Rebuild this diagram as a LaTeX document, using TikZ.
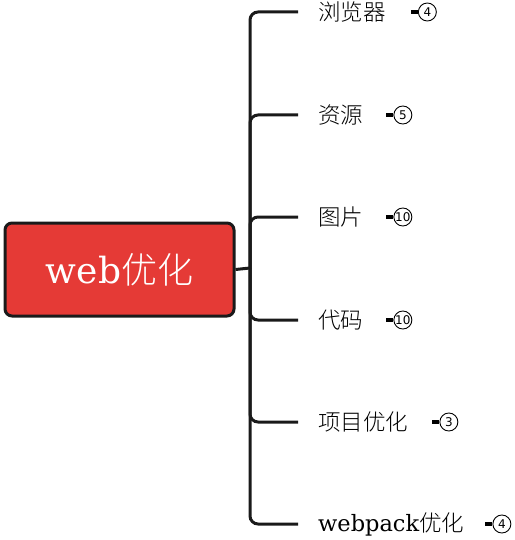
\documentclass[tikz,border=0pt]{standalone}
\usepackage{fontspec}
\setmainfont{DejaVu Serif}
\newfontfamily\cjk{Noto Sans CJK SC}[UprightFont={* Light}]
\setsansfont{DejaVu Sans}
\usetikzlibrary{positioning}
\definecolor{rootred}{HTML}{E53A36}
\definecolor{inkline}{HTML}{1A1A1A}
\tikzset{
  rootbox/.style={draw=inkline,line width=3pt,fill=rootred,rounded corners=7pt,
    minimum width=229pt,minimum height=93pt,text=white,
    font=\fontsize{36}{40}\selectfont},
  leaf/.style={inner sep=0pt,anchor=west,font=\fontsize{22.5}{24}\selectfont},
  branch/.style={draw=inkline,line width=3pt,rounded corners=8pt},
  counter/.style={draw=black,circle,line width=0.9pt,minimum size=18pt,inner sep=0pt,
    font=\sffamily\fontsize{12}{12}\selectfont},
  stub/.style={draw=black,line width=3.5pt}
}
\begin{document}
\begin{tikzpicture}[x=1pt,y=-1pt]
\useasboundingbox (0,0) rectangle (514,540);

\node[rootbox] (root) at (119.5,269.5) {web{\cjk 优化}};
\coordinate (hub) at (250,268);
\draw[branch] (root.east) -- (hub);

\node[leaf] (b1) at (318,12) {\cjk 浏览器};
\node[leaf] (b2) at (318,115) {\cjk 资源};
\node[leaf] (b3) at (318,217) {\cjk 图片};
\node[leaf] (b4) at (318,320) {\cjk 代码};
\node[leaf] (b5) at (318,422) {\cjk 项目优化};
\node[leaf] (b6) at (318,524) {webpack{\cjk 优化}};

% branches
\foreach \b in {b1,b2,b3,b4,b5,b6}
  \draw[branch] (hub) |- ([xshift=-20pt]\b.west);

% counters
\node[counter,right=32pt of b1] (n1) {4};
\node[counter,right=30pt of b2] (n2) {5};
\node[counter,right=30pt of b3] (n3) {10};
\node[counter,right=30pt of b4] (n4) {10};
\node[counter,right=31pt of b5] (n5) {3};
\node[counter,right=28pt of b6] (n6) {4};
\foreach \n in {n1,n2,n3,n4,n5,n6}
  \draw[stub] ([xshift=-7pt]\n.west) -- (\n.west);

\end{tikzpicture}
\end{document}
